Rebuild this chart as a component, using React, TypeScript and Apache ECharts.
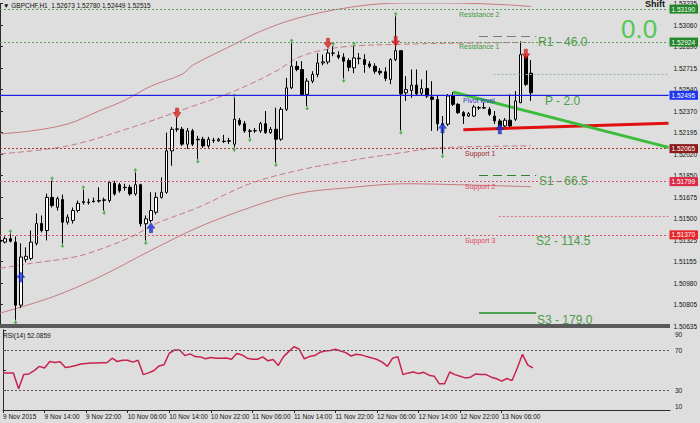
import React, { useEffect, useRef } from 'react';
import * as echarts from 'echarts';

const FONT = "'Liberation Sans', Arial, 'DejaVu Sans', sans-serif";

const headerText = '\u25BC GBPCHF,H1  1.52673 1.52780 1.52449 1.52515';
const rsiTitle = 'RSI(14) 52.0859';

// Hourly bars from 9 Nov 2015 06:00: [open, high, low, close]
const bars: number[][] = [
  [1.51325, 1.51341, 1.51301, 1.51317],
  [1.51311, 1.51357, 1.51301, 1.51339],
  [1.51339, 1.51379, 1.51309, 1.51319],
  [1.51311, 1.51357, 1.50683, 1.50803],
  [1.50803, 1.51301, 1.50779, 1.51191],
  [1.51172, 1.51269, 1.51148, 1.51197],
  [1.51180, 1.51405, 1.51164, 1.51311],
  [1.51301, 1.51542, 1.51285, 1.51461],
  [1.51461, 1.51526, 1.51389, 1.51405],
  [1.51405, 1.51702, 1.51325, 1.51672],
  [1.51672, 1.51806, 1.51590, 1.51606],
  [1.51592, 1.51678, 1.51566, 1.51662],
  [1.51654, 1.51694, 1.51301, 1.51472],
  [1.51472, 1.51534, 1.51453, 1.51512],
  [1.51486, 1.51590, 1.51461, 1.51566],
  [1.51566, 1.51646, 1.51550, 1.51624],
  [1.51630, 1.51734, 1.51614, 1.51638],
  [1.51630, 1.51662, 1.51614, 1.51634],
  [1.51638, 1.51670, 1.51630, 1.51642],
  [1.51642, 1.51753, 1.51630, 1.51646],
  [1.51652, 1.51670, 1.51566, 1.51648],
  [1.51646, 1.51806, 1.51630, 1.51793],
  [1.51785, 1.51806, 1.51686, 1.51700],
  [1.51774, 1.51790, 1.51710, 1.51726],
  [1.51753, 1.51782, 1.51726, 1.51750],
  [1.51753, 1.51774, 1.51686, 1.51700],
  [1.51700, 1.51873, 1.51686, 1.51774],
  [1.51774, 1.51782, 1.51437, 1.51459],
  [1.51459, 1.51526, 1.51325, 1.51499],
  [1.51486, 1.51713, 1.51469, 1.51566],
  [1.51552, 1.51713, 1.51534, 1.51672],
  [1.51672, 1.51833, 1.51662, 1.51713],
  [1.51713, 1.52194, 1.51702, 1.52047],
  [1.52047, 1.52240, 1.51927, 1.52221],
  [1.52221, 1.52315, 1.52200, 1.52224],
  [1.52221, 1.52240, 1.52087, 1.52101],
  [1.52101, 1.52232, 1.52063, 1.52208],
  [1.52208, 1.52224, 1.52087, 1.52101],
  [1.52141, 1.52168, 1.51981, 1.52136],
  [1.52141, 1.52160, 1.52071, 1.52087],
  [1.52087, 1.52160, 1.52071, 1.52141],
  [1.52133, 1.52152, 1.52111, 1.52130],
  [1.52128, 1.52152, 1.52120, 1.52141],
  [1.52122, 1.52176, 1.52111, 1.52125],
  [1.52128, 1.52152, 1.52103, 1.52125],
  [1.52101, 1.52475, 1.52074, 1.52302],
  [1.52294, 1.52312, 1.52248, 1.52262],
  [1.52266, 1.52288, 1.52192, 1.52208],
  [1.52208, 1.52224, 1.52154, 1.52205],
  [1.52208, 1.52232, 1.52192, 1.52210],
  [1.52208, 1.52280, 1.52192, 1.52266],
  [1.52266, 1.52368, 1.52184, 1.52194],
  [1.52194, 1.52240, 1.52184, 1.52221],
  [1.52221, 1.52395, 1.51953, 1.52141],
  [1.52141, 1.52400, 1.52128, 1.52382],
  [1.52382, 1.52635, 1.52368, 1.52555],
  [1.52555, 1.52916, 1.52545, 1.52729],
  [1.52729, 1.52770, 1.52689, 1.52703],
  [1.52703, 1.52770, 1.52489, 1.52502],
  [1.52502, 1.52633, 1.52408, 1.52609],
  [1.52609, 1.52689, 1.52593, 1.52663],
  [1.52663, 1.52834, 1.52641, 1.52756],
  [1.52756, 1.52823, 1.52737, 1.52764],
  [1.52764, 1.52866, 1.52745, 1.52836],
  [1.52834, 1.52890, 1.52810, 1.52836],
  [1.52818, 1.52850, 1.52786, 1.52802],
  [1.52802, 1.52834, 1.52633, 1.52770],
  [1.52775, 1.52794, 1.52689, 1.52721],
  [1.52716, 1.52890, 1.52673, 1.52796],
  [1.52790, 1.52836, 1.52745, 1.52794],
  [1.52783, 1.52826, 1.52676, 1.52743],
  [1.52748, 1.52770, 1.52713, 1.52729],
  [1.52729, 1.52753, 1.52668, 1.52689],
  [1.52689, 1.52713, 1.52657, 1.52676],
  [1.52684, 1.52721, 1.52609, 1.52631],
  [1.52623, 1.52794, 1.52585, 1.52783],
  [1.52783, 1.53133, 1.52770, 1.52855],
  [1.52855, 1.52858, 1.52213, 1.52507],
  [1.52515, 1.52649, 1.52449, 1.52541],
  [1.52534, 1.52703, 1.52475, 1.52577],
  [1.52577, 1.52703, 1.52497, 1.52507],
  [1.52512, 1.52623, 1.52497, 1.52549],
  [1.52549, 1.52695, 1.52473, 1.52489],
  [1.52481, 1.52609, 1.52208, 1.52462],
  [1.52462, 1.52489, 1.52208, 1.52266],
  [1.52266, 1.52328, 1.52023, 1.52256],
  [1.52262, 1.52505, 1.52248, 1.52489],
  [1.52489, 1.52521, 1.52408, 1.52422],
  [1.52422, 1.52432, 1.52344, 1.52355],
  [1.52355, 1.52368, 1.52264, 1.52328],
  [1.52328, 1.52360, 1.52320, 1.52347],
  [1.52328, 1.52416, 1.52320, 1.52400],
  [1.52392, 1.52408, 1.52376, 1.52395],
  [1.52392, 1.52435, 1.52384, 1.52396],
  [1.52382, 1.52400, 1.52328, 1.52342],
  [1.52328, 1.52368, 1.52264, 1.52288],
  [1.52288, 1.52304, 1.52232, 1.52248],
  [1.52248, 1.52312, 1.52240, 1.52294],
  [1.52294, 1.52502, 1.52240, 1.52248],
  [1.52302, 1.52529, 1.52288, 1.52449],
  [1.52435, 1.52930, 1.52432, 1.52823],
  [1.52810, 1.52834, 1.52569, 1.52583],
  [1.52673, 1.52780, 1.52449, 1.52515],
];

const rsiValues = [
  47.1, 47.1, 47.1, 31.3, 45.4, 46.1, 49.3, 53.6, 52.0, 58.5,
  57.5, 58.2, 52.6, 53.3, 54.6, 55.9, 56.6, 56.9, 56.9, 57.2,
  57.2, 61.8, 58.5, 59.8, 59.8, 57.9, 59.8, 45.4, 47.1, 49.3,
  53.9, 55.2, 66.7, 70.0, 70.0, 64.4, 66.1, 63.4, 63.1, 61.2,
  62.5, 61.8, 61.8, 62.1, 60.8, 66.4, 65.1, 61.8, 60.8, 60.8,
  63.1, 59.2, 60.5, 54.6, 63.4, 68.4, 73.3, 71.0, 61.2, 63.4,
  64.4, 67.7, 69.0, 69.4, 70.7, 69.0, 67.4, 64.0, 65.7, 65.1,
  63.4, 62.1, 60.5, 57.9, 53.6, 61.8, 63.4, 45.4, 47.1, 48.0,
  46.4, 47.7, 44.8, 43.8, 36.2, 36.2, 48.0, 45.4, 43.8, 42.1,
  42.8, 46.1, 45.4, 45.4, 42.8, 41.2, 38.9, 41.5, 39.5, 52.0,
  65.7, 55.2, 52.09,
];

const xTickLabels = [
  '9 Nov 2015', '9 Nov 14:00', '9 Nov 22:00', '10 Nov 06:00', '10 Nov 14:00',
  '10 Nov 22:00', '11 Nov 06:00', '11 Nov 14:00', '11 Nov 22:00', '12 Nov 06:00',
  '12 Nov 14:00', '12 Nov 22:00', '13 Nov 06:00',
];
const priceTickLabels = [
  '1.50635', '1.50805', '1.50980', '1.51155', '1.51325', '1.51500', '1.51675', '1.51850',
  '1.52020', '1.52195', '1.52370', '1.52540', '1.52715', '1.52890', '1.53060', '1.53235',
];
const rsiTickLabels = [10, 30, 70, 90];
const rsiLevels = [70, 30];

// Envelope bands: [bar index, price]
const upperOuter = [
  [0, 1.52184], [6, 1.52208], [13, 1.52264], [19, 1.52368], [24, 1.52456], [29, 1.52569],
  [35, 1.52665], [37, 1.52737], [45, 1.52906], [50, 1.5301], [57, 1.53115], [67, 1.53203],
  [77, 1.53239], [86, 1.53239], [96, 1.53227], [102, 1.53211],
];
const upperInner = [
  [0, 1.52023], [13, 1.52087], [25, 1.52232], [36, 1.52392], [45, 1.52529], [53, 1.52689],
  [57, 1.52794], [61, 1.5285], [67, 1.5289], [77, 1.52906], [86, 1.52914], [102, 1.52922],
];
const lowerInner = [
  [0, 1.511], [6, 1.5114], [13, 1.51181], [17, 1.51221], [25, 1.51349], [30, 1.51461],
  [38, 1.5159], [48, 1.51782], [57, 1.51887], [67, 1.51967], [77, 1.52031], [84, 1.52071],
  [102, 1.52087],
];
const lowerOuter = [
  [0, 1.50739], [10, 1.50868], [19, 1.51028], [29, 1.51245], [38, 1.51429], [48, 1.5159],
  [57, 1.51702], [67, 1.5175], [78, 1.51782], [88, 1.51774], [102, 1.51758],
];

const greenTrend = [[87, 1.52521], [128.4, 1.52075]];
const redTrend = [[89, 1.52218], [128.4, 1.5227]];

const upFractalBars = [2, 10, 16, 26, 45, 56, 64, 68, 76];
const downFractalBars = [3, 12, 20, 28, 38, 45, 48, 53, 59, 66, 77, 85];
const sellArrows = [[34, 1.52352], [63, 1.52914], [76, 1.5293], [101, 1.52826]];
const buyArrows = [[4, 1.5103], [29, 1.51427], [85, 1.52232], [96, 1.52224]];

// Pivot levels: R2, R1, S1, S2, S3 (dotted) and P (solid)
const pivotLevels = [1.5319, 1.52924, 1.52065, 1.51799, 1.5137];
const pivotPoint = 1.52495;
// Other horizontal segments: [price, from bar, to bar]
const segments = [
  [1.52665, 94.8, 128.4],
  [1.51518, 95.8, 128.4],
  [1.5297, 92, 103],
  [1.51847, 92, 103],
  [1.50739, 92, 103],
];

const X_MAX = 128.4;
const P_MIN = 1.50635;
const P_MAX = 1.53235;
const P_STEP = (P_MAX - P_MIN) / 15;

export default function App() {
  const ref = useRef<HTMLDivElement>(null);

  useEffect(() => {
    if (!ref.current) return;
    const chart = echarts.init(ref.current, null, { renderer: 'svg' });

    const levelColors = ['#5f9d5f', '#5f9d5f', '#a33a3a', '#d9566a', '#d9566a'];
    const tagColors = ['#23872a', '#23872a', '#8c1a1a', '#dc2b48', '#e8262a'];
    const segStyles = [
      { color: '#93bf93', type: [2, 2], width: 1 },
      { color: '#d9707c', type: [2, 2], width: 1 },
      { color: '#7a7a7a', type: [9, 5], width: 1 },
      { color: '#2f7f2f', type: [9, 5], width: 1 },
      { color: '#1f901f', type: 'solid', width: 1.5 },
    ];
    const tagLabel = (p: number, bg: string) => ({
      show: true,
      position: 'end',
      distance: 1,
      formatter: p.toFixed(5),
      color: '#ffffff',
      backgroundColor: bg,
      fontSize: 6.5,
      fontFamily: FONT,
      padding: [1, 3, 1, 2],
    });

    const markLineData: any[] = pivotLevels.map((p, i) => ({
      yAxis: p,
      lineStyle: { color: levelColors[i], type: [2, 2], width: 1 },
      label: tagLabel(p, tagColors[i]),
    }));
    segments.forEach((s, i) => {
      markLineData.push([
        { coord: [s[1], s[0]], lineStyle: segStyles[i], label: { show: false } },
        { coord: [s[2], s[0]] },
      ]);
    });

    const envColor = '#c77980';
    const envLine = (data: number[][], dashed: boolean, extra: any = {}) => ({
      type: 'line',
      xAxisIndex: 0,
      yAxisIndex: 0,
      data,
      smooth: 0.35,
      symbol: 'none',
      silent: true,
      z: 1,
      lineStyle: { color: envColor, width: 1, type: dashed ? [6, 3] : 'solid' },
      ...extra,
    });

    const texts = [
      { t: headerText, x: 3, y: 5, c: '#111', s: 6.5 },
      { t: 'Resistance 2', x: 459, y: 14, c: '#3f9a3f', s: 7 },
      { t: 'Resistance 1', x: 459, y: 46, c: '#3f9a3f', s: 7 },
      { t: 'Pivot level', x: 463, y: 100, c: '#3434c4', s: 7 },
      { t: 'Support 1', x: 465, y: 153, c: '#a12a2a', s: 7 },
      { t: 'Support 2', x: 465, y: 186, c: '#e2455c', s: 7 },
      { t: 'Support 3', x: 465, y: 240, c: '#e2455c', s: 7 },
      { t: 'R1 - 46.0', x: 538, y: 42, c: '#4c9c4c', s: 12 },
      { t: 'P - 2.0', x: 545, y: 101, c: '#4c9c4c', s: 12 },
      { t: 'S1 - 66.5', x: 539, y: 181, c: '#4c9c4c', s: 12 },
      { t: 'S2 - 114.5', x: 536, y: 241, c: '#4c9c4c', s: 12 },
      { t: 'S3 - 179.0', x: 537, y: 320, c: '#4c9c4c', s: 12 },
      { t: '0.0', x: 621, y: 29, c: '#54c854', s: 26 },
      { t: rsiTitle, x: 3, y: 335, c: '#111', s: 6.5 },
    ];

    const graphic: any[] = [
      { type: 'rect', x: 0, y: 324, shape: { width: 670, height: 4 }, style: { fill: '#5a5a5a' }, z: 50, silent: true },
      ...texts.map((o) => ({
        type: 'text',
        x: o.x,
        y: o.y,
        z: 60,
        silent: true,
        style: { text: o.t, fill: o.c, fontSize: o.s, fontFamily: FONT, verticalAlign: 'middle', align: 'left' },
      })),
      {
        type: 'text', x: 645, y: 4, z: 60, silent: true,
        style: { text: 'Shift', fill: '#111', fontSize: 9, fontWeight: 'bold', fontFamily: FONT, verticalAlign: 'middle' },
      },
    ];

    const option: any = {
      animation: false,
      backgroundColor: '#dedede',
      textStyle: { fontFamily: FONT },
      grid: [
        { left: 0, top: 2, width: 670, height: 324 },
        { left: 0, top: 330, width: 670, height: 80 },
      ],
      xAxis: [
        { type: 'value', gridIndex: 0, min: 0, max: X_MAX, show: false },
        {
          type: 'value', gridIndex: 1, min: 0, max: X_MAX, interval: 8,
          splitLine: { show: false },
          axisLine: { show: true, lineStyle: { color: '#2a2a2a' } },
          axisTick: { show: true, length: 3, lineStyle: { color: '#2a2a2a' }, customValues: xTickLabels.map((_, i) => i * 8) },
          axisLabel: {
            fontSize: 6.5, color: '#111', align: 'left', margin: 3, fontFamily: FONT,
            customValues: xTickLabels.map((_, i) => i * 8),
            formatter: (v: number) => {
              const k = Math.round(v / 8);
              return Math.abs(v - k * 8) < 1e-6 && xTickLabels[k] ? xTickLabels[k] : '';
            },
          },
        },
      ],
      yAxis: [
        {
          type: 'value', gridIndex: 0, position: 'right', min: P_MIN, max: P_MAX, interval: P_STEP,
          splitLine: { show: false },
          axisLine: { show: true, lineStyle: { color: '#2a2a2a' } },
          axisTick: { show: true, length: 3, lineStyle: { color: '#2a2a2a' } },
          axisLabel: {
            fontSize: 6.5, color: '#111', margin: 5, fontFamily: FONT,
            formatter: (v: number) => priceTickLabels[Math.round((v - P_MIN) / P_STEP)] ?? '',
          },
        },
        {
          type: 'value', gridIndex: 1, position: 'right', min: 10, max: 90, interval: 20,
          splitLine: { show: false },
          axisLine: { show: true, lineStyle: { color: '#2a2a2a' } },
          axisTick: { show: true, length: 3, lineStyle: { color: '#2a2a2a' } },
          axisLabel: {
            fontSize: 6.5, color: '#111', margin: 5, fontFamily: FONT,
            formatter: (v: number) => {
              const r = Math.round(v);
              if (!rsiTickLabels.includes(r)) return '';
              if (r === 90) return '{t|90}';
              if (r === 10) return '{b|10}';
              return String(r);
            },
            rich: {
              t: { fontSize: 6.5, color: '#111', fontFamily: FONT, padding: [8, 0, 0, 0] },
              b: { fontSize: 6.5, color: '#111', fontFamily: FONT, padding: [0, 0, 8, 0] },
            },
          },
        },
      ],
      series: [
        envLine(upperOuter, false, {
          markLine: { silent: true, symbol: ['none', 'none'], precision: 5, animation: false, data: markLineData },
        }),
        envLine(upperInner, true),
        envLine(lowerInner, true),
        envLine(lowerOuter, false),
        {
          type: 'line', xAxisIndex: 0, yAxisIndex: 0, symbol: 'none', silent: true, z: 2,
          data: [[0, pivotPoint], [X_MAX, pivotPoint]],
          itemStyle: { color: '#1e1ee6' },
          lineStyle: { color: '#1e1ee6', width: 1, type: 'solid', opacity: 1 },
          markLine: {
            silent: true, symbol: ['none', 'none'], precision: 5, animation: false,
            lineStyle: { color: '#1e1ee6', type: 'solid', width: 1 },
            label: tagLabel(pivotPoint, '#1f36f0'),
            data: [{ yAxis: pivotPoint }],
          },
        },
        {
          type: 'line', xAxisIndex: 0, yAxisIndex: 0, data: redTrend, symbol: 'none', silent: true, z: 2,
          lineStyle: { color: '#e01010', width: 3 },
        },
        {
          type: 'line', xAxisIndex: 0, yAxisIndex: 0, data: greenTrend, symbol: 'none', silent: true, z: 2,
          lineStyle: { color: '#3cbc3c', width: 3 },
        },
        {
          type: 'candlestick', xAxisIndex: 0, yAxisIndex: 0, barWidth: 3, z: 3,
          data: bars.map((b, i) => [i, b[0], b[3], b[2], b[1]]),
          itemStyle: {
            color: '#ffffff', color0: '#000000', borderColor: '#000000', borderColor0: '#000000',
            borderColorDoji: '#000000', borderWidth: 1,
          },
        },
        {
          type: 'scatter', xAxisIndex: 0, yAxisIndex: 0, z: 4, silent: true,
          data: upFractalBars.map((i) => [i, bars[i][1]]),
          symbol: 'path://M2,0 L4,3 L2.6,3 L2.6,6 L1.4,6 L1.4,3 L0,3 Z',
          symbolSize: [4, 5], symbolOffset: [0, -2],
          itemStyle: { color: '#2ca02c' },
        },
        {
          type: 'scatter', xAxisIndex: 0, yAxisIndex: 0, z: 4, silent: true,
          data: downFractalBars.map((i) => [i, bars[i][2]]),
          symbol: 'path://M1.4,0 L2.6,0 L2.6,3 L4,3 L2,6 L0,3 L1.4,3 Z',
          symbolSize: [4, 5], symbolOffset: [0, 2],
          itemStyle: { color: '#2ca02c' },
        },
        {
          type: 'scatter', xAxisIndex: 0, yAxisIndex: 0, z: 5, silent: true,
          data: sellArrows,
          symbol: 'path://M3,0 L7,0 L7,5 L10,5 L5,11 L0,5 L3,5 Z',
          symbolSize: [8, 10],
          itemStyle: { color: '#e3201b', borderColor: '#9b1111', borderWidth: 0.5 },
        },
        {
          type: 'scatter', xAxisIndex: 0, yAxisIndex: 0, z: 5, silent: true,
          data: buyArrows,
          symbol: 'path://M5,0 L10,6 L7,6 L7,11 L3,11 L3,6 L0,6 Z',
          symbolSize: [8, 10],
          itemStyle: { color: '#1b2fd8', borderColor: '#10208a', borderWidth: 0.5 },
        },
        {
          type: 'line', xAxisIndex: 1, yAxisIndex: 1, symbol: 'none', silent: true,
          data: rsiValues.map((v, i) => [i, v]),
          lineStyle: { color: '#c8234f', width: 1.5 },
          markLine: {
            silent: true, symbol: ['none', 'none'], animation: false,
            label: { show: false },
            lineStyle: { color: '#555555', type: [2, 2], width: 1 },
            data: rsiLevels.map((v) => ({ yAxis: v })),
          },
        },
      ],
      graphic,
    };

    chart.setOption(option);
    return () => chart.dispose();
  }, []);

  return <div ref={ref} style={{ position: 'fixed', left: 0, top: 0, width: 700, height: 423 }} />;
}
